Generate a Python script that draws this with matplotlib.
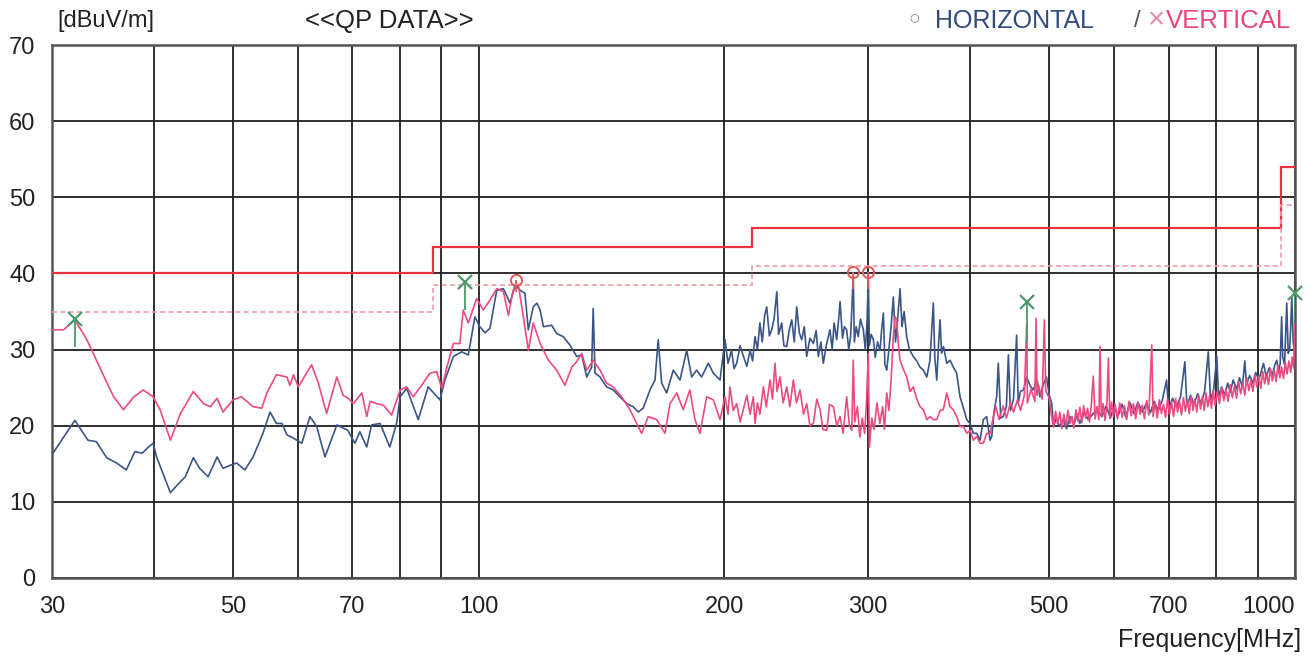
import matplotlib
matplotlib.use("Agg")
import matplotlib.pyplot as plt
from matplotlib.ticker import NullLocator

# ---------------- data ----------------
grid_freqs = [30, 40, 50, 60, 70, 80, 90, 100, 200, 300, 400, 500, 600, 700, 800, 900, 1000]
x_tick_labels = ["30", "", "50", "", "70", "", "", "100", "200", "300", "", "500", "", "700", "", "", "1000"]
y_ticks = [0, 10, 20, 30, 40, 50, 60, 70]

limit_edges = [30, 88, 216, 960, 1000]
limit_levels = [40, 43.5, 46, 54]
margin_levels = [35, 38.5, 41, 49]

# (frequency MHz, level dBuV/m)
horizontal_trace = [
    (30.0, 16.2), (31.0, 18.5), (32.0, 20.7), (33.2, 18.1), (34.0, 17.9), (35.0, 15.8), (36.0, 15.1),
    (37.0, 14.2), (37.9, 16.6), (38.7, 16.4), (39.3, 17.1), (39.9, 17.7), (40.3, 15.9), (41.0, 13.8),
    (41.9, 11.2), (42.7, 12.2), (43.7, 13.3), (44.7, 15.8), (45.5, 14.4), (46.6, 13.3), (47.8, 15.9),
    (48.6, 14.4), (49.6, 14.8), (50.5, 15.1), (51.7, 14.2), (52.9, 15.9), (54.4, 19.0), (55.5, 21.8),
    (56.5, 20.3), (57.4, 20.3), (58.2, 18.8), (59.2, 18.4), (60.7, 17.7), (62.1, 21.2), (63.3, 19.9),
    (64.8, 15.9), (67.0, 20.1), (68.2, 19.7), (69.1, 19.4), (70.5, 17.7), (71.5, 19.2), (72.9, 17.2),
    (73.9, 20.1), (75.7, 20.3), (77.8, 17.2), (79.3, 20.3), (80.1, 23.8), (81.6, 24.9), (84.3, 20.8),
    (86.7, 25.1), (89.6, 23.4), (90.9, 26.0), (93.1, 29.1), (95.3, 29.7), (97.1, 29.3), (98.9, 34.3),
    (100.3, 33.0), (101.8, 32.2), (103.2, 32.8), (105.2, 37.8), (107.2, 38.0), (109.2, 36.1),
    (110.8, 38.5), (112.3, 37.8), (113.9, 37.4), (115.0, 32.6), (116.6, 35.6), (117.8, 36.1),
    (118.9, 35.2), (120.0, 33.0), (122.8, 33.2), (124.6, 32.1), (126.9, 31.7), (129.3, 30.6),
    (131.8, 29.1), (133.7, 29.3), (135.6, 26.4), (137.5, 27.7), (138.1, 35.4), (138.8, 26.9),
    (140.8, 26.4), (143.4, 25.1), (146.1, 24.7), (148.9, 23.8), (151.8, 22.9), (154.6, 22.5),
    (156.8, 21.8), (159.0, 22.3), (162.1, 24.7), (164.4, 26.0), (165.9, 31.3), (167.5, 25.6),
    (169.9, 24.3), (173.1, 27.3), (176.4, 26.0), (179.8, 29.9), (182.3, 26.4), (184.9, 27.3),
    (187.5, 26.4), (191.1, 28.2), (193.8, 26.9), (197.5, 26.0),
    (200.3, 31.3), (202.0, 28.2), (204.0, 29.9), (205.5, 27.5), (207.0, 28.2), (209.0, 30.5),
    (211.0, 29.1), (213.0, 27.8), (215.0, 29.9), (216.5, 28.5), (218.0, 31.7), (219.5, 30.0),
    (221.0, 33.5), (222.5, 31.0), (224.0, 34.5), (225.3, 35.6), (227.0, 31.8), (228.5, 32.6),
    (230.0, 34.0), (231.8, 37.6), (233.0, 32.0), (235.0, 33.5), (236.5, 30.5), (238.4, 30.4),
    (240.0, 32.5), (241.8, 33.9), (243.5, 31.0), (245.2, 35.6), (247.0, 32.2), (248.7, 31.3),
    (250.5, 33.0), (252.2, 29.1), (254.5, 31.5), (257.0, 30.8), (259.0, 32.5), (260.6, 29.1),
    (262.5, 31.0), (264.3, 28.2), (266.5, 30.5), (269.3, 32.6), (271.0, 30.0), (272.5, 33.5),
    (274.5, 31.3), (276.0, 34.0), (277.1, 36.3), (279.0, 31.5), (280.5, 33.0), (282.3, 32.6),
    (284.0, 30.0), (285.5, 31.8), (287.6, 39.6), (288.5, 31.0), (290.0, 33.0), (291.7, 31.7),
    (293.5, 34.0), (295.9, 32.6), (297.5, 30.0), (299.0, 33.5), (300.1, 39.8), (301.0, 30.5),
    (302.5, 32.0), (304.4, 31.3), (306.0, 29.0), (308.0, 31.0), (310.2, 29.9), (311.5, 32.5),
    (313.1, 34.8), (314.5, 28.0), (316.1, 27.3), (318.0, 30.0), (320.0, 33.0), (322.0, 36.9),
    (324.0, 31.0), (326.0, 34.0), (328.2, 38.0), (330.0, 33.0), (332.0, 35.0), (334.4, 31.7),
    (337.0, 30.0), (340.7, 29.1), (344.0, 28.5), (347.2, 27.7), (350.5, 27.3), (353.9, 26.4),
    (357.0, 28.5), (360.5, 36.1), (362.0, 29.0), (364.0, 26.0), (366.0, 31.0), (367.4, 33.9),
    (369.0, 29.5), (371.0, 30.4), (374.4, 28.2), (377.9, 28.6), (381.4, 27.7), (385.0, 26.9),
    (388.7, 23.8), (392.0, 22.5), (396.1, 20.8), (399.8, 20.3), (403.6, 19.0), (407.5, 19.0),
    (411.3, 18.1), (415.1, 20.8), (419.1, 21.2), (423.0, 18.1), (425.1, 18.6), (428.0, 22.0),
    (431.0, 23.8), (433.0, 28.2), (436.0, 21.0), (439.0, 21.2), (443.0, 22.5), (445.5, 29.3),
    (448.0, 22.0), (452.0, 23.5), (456.0, 31.9), (458.0, 23.0), (461.0, 24.5), (465.0, 24.7),
    (469.0, 26.4), (474.0, 25.2), (478.0, 24.7), (483.0, 26.0), (487.0, 23.8), (492.0, 25.5),
    (496.0, 26.4), (500.0, 24.0), (503.5, 22.9), (506.0, 19.9), (510.0, 21.0), (515.0, 19.9),
    (520.0, 20.8), (525.0, 19.6), (530.0, 21.2), (536.0, 20.2), (541.0, 21.5), (545.0, 20.3),
    (552.0, 21.8), (558.0, 20.8), (566.0, 21.6), (572.0, 22.0), (580.0, 21.2), (587.0, 22.6),
    (594.0, 21.0), (600.0, 22.5), (607.0, 21.3), (614.0, 22.8), (620.0, 21.2), (628.0, 23.0),
    (635.0, 21.6), (642.0, 23.1), (650.0, 21.8), (658.0, 23.0), (665.0, 21.7), (672.0, 23.2),
    (680.0, 22.0), (688.0, 23.4), (696.0, 26.0), (700.0, 22.2), (708.0, 23.6), (716.0, 22.4),
    (724.0, 23.8), (733.0, 28.4), (737.0, 22.6), (745.0, 24.0), (752.0, 22.8), (760.0, 24.2),
    (767.0, 22.9), (775.0, 24.5), (783.0, 29.7), (788.0, 23.3), (795.0, 24.8), (802.0, 29.1),
    (806.0, 23.8), (813.0, 25.1), (820.0, 24.0), (827.0, 25.6), (833.0, 24.4), (840.0, 26.0),
    (848.0, 24.8), (855.0, 26.3), (862.0, 25.1), (868.0, 28.5), (872.0, 25.4), (880.0, 26.6),
    (888.0, 25.6), (895.0, 27.0), (903.0, 26.0), (910.0, 27.3), (915.0, 28.2), (922.0, 26.4),
    (930.0, 27.6), (938.0, 26.7), (945.0, 28.0), (950.0, 28.6), (955.0, 27.0), (959.0, 28.2),
    (963.0, 34.3), (966.0, 29.0), (971.0, 28.0), (977.0, 36.1), (981.0, 29.5), (985.0, 30.0),
    (988.0, 33.0), (991.0, 36.9), (995.0, 31.0), (1000.0, 29.1),
]

vertical_trace = [
    (30.0, 32.6), (30.5, 32.6), (31.0, 32.6), (32.0, 33.9), (33.1, 31.3), (34.0, 28.6), (34.9, 26.0),
    (35.7, 23.8), (36.7, 22.1), (37.8, 23.8), (38.8, 24.7), (39.9, 23.8), (40.7, 22.1), (41.9, 18.1),
    (43.1, 21.6), (44.7, 24.5), (46.0, 22.9), (46.9, 22.5), (47.8, 23.6), (48.6, 21.8), (50.0, 23.4),
    (51.2, 23.8), (52.9, 22.5), (54.2, 22.3), (55.0, 24.3), (56.5, 26.7), (58.2, 26.4), (58.7, 25.3),
    (59.3, 26.7), (60.1, 25.1), (62.4, 28.0), (63.6, 25.6), (65.1, 21.6), (67.0, 26.4), (68.2, 24.0),
    (69.2, 23.6), (70.2, 22.9), (71.9, 24.3), (72.9, 21.2), (73.6, 23.2), (75.0, 22.9), (76.4, 22.7),
    (78.2, 21.4), (80.1, 24.7), (81.6, 25.1), (83.1, 23.8), (85.1, 25.3), (87.1, 26.9), (88.8, 27.1),
    (90.1, 24.9), (91.4, 27.7), (93.1, 30.8), (94.8, 30.8), (95.7, 35.2), (97.1, 33.5), (99.4, 36.7),
    (101.3, 35.2), (103.2, 36.5), (105.2, 38.0), (107.2, 37.6), (108.7, 34.5), (110.2, 37.8),
    (111.8, 38.5), (113.4, 34.3), (115.0, 29.9), (116.6, 33.5), (118.9, 30.8), (121.7, 28.6),
    (124.6, 27.3), (127.5, 25.3), (130.0, 27.7), (131.8, 28.4), (133.7, 29.5), (135.6, 27.3),
    (138.1, 28.6), (140.8, 27.3), (143.4, 25.6), (146.1, 25.1), (149.6, 23.8), (153.2, 22.1),
    (156.1, 20.3), (158.3, 19.0), (161.3, 21.2), (165.2, 20.8), (169.1, 19.0), (171.5, 22.9),
    (174.8, 24.3), (178.0, 22.1), (181.4, 24.7), (184.0, 20.8), (186.6, 19.0), (190.2, 23.8),
    (193.8, 23.4), (197.5, 20.8),
    (200.3, 23.8), (202.0, 21.5), (203.1, 25.1), (205.0, 22.0), (207.0, 22.9), (209.0, 20.5),
    (210.9, 22.1), (213.0, 24.0), (215.0, 21.5), (216.9, 23.8), (218.0, 20.3), (219.5, 23.0),
    (221.0, 21.5), (223.2, 25.1), (225.0, 22.5), (227.4, 26.0), (229.0, 23.5), (230.6, 28.2),
    (232.0, 24.5), (233.9, 26.4), (236.0, 23.0), (238.4, 25.1), (240.5, 22.5), (242.9, 26.0),
    (245.0, 23.0), (247.5, 24.7), (250.0, 21.5), (252.2, 22.9), (254.5, 20.0), (257.0, 20.3),
    (259.5, 23.5), (261.9, 22.1), (264.0, 19.5), (266.9, 19.4), (269.0, 22.8), (271.9, 22.5),
    (274.5, 20.0), (277.1, 21.2), (279.5, 19.0), (282.3, 23.8), (284.5, 20.0), (286.4, 19.4),
    (287.6, 28.6), (288.8, 20.5), (291.0, 22.5), (293.0, 18.5), (295.0, 21.0), (297.0, 19.0),
    (298.5, 23.0), (300.1, 29.5), (301.0, 17.2), (303.0, 21.0), (305.0, 19.5), (307.5, 23.0),
    (310.0, 20.3), (312.5, 22.5), (314.0, 19.5), (316.1, 24.3), (318.0, 22.0), (320.0, 26.0),
    (322.0, 31.7), (323.6, 34.3), (325.1, 33.9), (327.0, 30.0), (328.2, 28.6), (331.0, 27.5),
    (334.4, 26.4), (337.5, 24.5), (340.7, 25.1), (344.0, 23.5), (347.2, 22.5), (350.5, 22.1),
    (353.9, 20.8), (357.2, 21.2), (360.5, 20.8), (364.0, 20.8), (367.4, 22.0), (370.8, 22.1),
    (374.4, 24.3), (377.9, 22.5), (381.4, 22.1), (385.1, 21.2), (388.7, 19.9), (392.4, 19.9),
    (396.1, 19.0), (399.8, 19.4), (403.6, 18.1), (407.5, 18.6), (411.3, 17.7), (415.1, 17.7),
    (419.1, 19.0), (423.1, 19.0), (427.0, 21.2),
    (430.0, 22.5), (434.0, 20.8), (439.0, 22.6), (443.0, 21.0), (448.0, 23.0), (452.0, 21.8),
    (457.0, 23.4), (461.0, 22.0), (466.0, 24.0), (469.2, 33.5), (470.0, 23.0), (475.0, 24.8),
    (480.0, 23.2), (481.7, 34.1), (483.0, 24.0), (485.0, 25.3), (490.0, 23.5), (493.1, 33.9),
    (495.0, 24.6), (500.0, 23.6), (503.0, 21.4), (506.0, 19.8), (509.0, 21.9), (512.0, 20.2),
    (515.0, 21.8), (518.0, 19.6), (521.0, 21.5), (524.0, 20.0), (527.0, 22.0), (530.0, 20.3),
    (533.0, 21.2), (536.0, 19.7), (539.0, 22.1), (542.0, 20.6), (545.0, 22.4), (548.0, 20.4),
    (551.0, 22.6), (554.0, 21.0), (557.0, 22.3), (560.0, 20.5), (563.0, 22.8), (566.0, 26.5),
    (569.0, 20.9), (572.0, 22.5), (575.0, 20.8), (577.0, 30.4), (579.0, 21.2), (582.0, 22.9),
    (585.0, 20.7), (588.0, 22.4), (590.7, 28.9), (593.0, 21.0), (596.0, 23.1), (599.0, 21.2),
    (602.0, 22.8), (606.0, 20.9), (610.0, 23.0), (614.0, 21.1), (618.0, 22.6), (622.0, 20.8),
    (626.0, 23.2), (630.0, 21.3), (634.0, 22.9), (638.0, 20.9), (642.0, 23.1), (646.0, 21.5),
    (650.0, 22.7), (654.0, 20.9), (658.0, 23.3), (662.0, 21.4), (667.6, 30.6), (670.0, 21.2),
    (674.0, 23.0), (678.0, 21.0), (682.0, 23.4), (686.0, 21.6), (690.0, 22.8), (694.0, 21.1),
    (698.0, 23.5), (702.0, 21.5), (706.0, 23.1), (710.0, 21.2), (714.0, 23.6), (718.0, 21.8),
    (722.0, 23.2), (726.0, 21.4), (730.0, 23.7), (734.0, 21.9), (738.0, 23.4), (742.0, 21.6),
    (746.0, 23.9), (750.0, 22.0), (754.0, 23.5), (758.0, 21.8), (762.0, 24.0), (766.0, 22.2),
    (770.0, 23.8), (774.0, 22.0), (778.0, 24.3), (782.0, 22.5), (786.0, 24.0), (790.0, 22.3),
    (794.0, 24.6), (798.0, 22.7), (803.0, 24.5), (808.0, 22.9), (813.0, 25.0), (818.0, 23.3),
    (823.0, 24.8), (828.0, 23.2), (833.0, 25.4), (838.0, 23.7), (843.0, 25.2), (848.0, 23.6),
    (853.0, 25.8), (858.0, 24.2), (863.0, 25.6), (868.0, 24.0), (873.0, 26.3), (878.0, 24.6),
    (883.0, 26.0), (888.0, 24.5), (893.0, 26.7), (898.0, 25.1), (903.0, 26.5), (908.0, 24.9),
    (913.0, 27.1), (918.0, 25.5), (923.0, 26.9), (928.0, 25.4), (933.0, 27.5), (938.0, 25.9),
    (943.0, 27.3), (948.0, 25.8), (953.0, 27.9), (958.0, 26.3), (963.0, 27.7), (968.0, 26.2),
    (973.0, 28.3), (978.0, 26.8), (983.0, 28.5), (988.0, 27.0), (992.0, 29.0), (996.0, 27.6),
    (1000.0, 33.5),
]

# peak markers: frequency, level, bottom of the marker stick, polarisation
peak_freq = [32.0, 96.2, 111.2, 287.6, 300.1, 469.2, 1000.0]
peak_level = [34.0, 38.9, 39.1, 40.2, 40.2, 36.3, 37.4]
peak_stick_bottom = [30.3, 35.2, 37.5, 38.0, 38.0, 31.0, 33.5]
peak_pol = ["V", "V", "H", "H", "H", "V", "V"]

# ---------------- drawing ----------------
plt.rcParams["font.family"] = ["Liberation Sans", "DejaVu Sans"]

W, H = 1310, 662
fig = plt.figure(figsize=(W / 100, H / 100), dpi=100)
ax = fig.add_axes([52 / W, 1 - 578 / H, (1295 - 52) / W, (578 - 45) / H])

ax.set_xscale("log")
ax.set_xlim(30, 1000)
ax.set_ylim(0, 70)
ax.set_xticks(grid_freqs)
ax.set_xticklabels(x_tick_labels)
ax.xaxis.set_minor_locator(NullLocator())
ax.set_yticks(y_ticks)
ax.set_yticklabels([str(v) for v in y_ticks])
ax.tick_params(axis="both", length=0, labelsize=17, colors="#222222")
ax.tick_params(axis="x", pad=13)
ax.tick_params(axis="y", pad=12)
ax.get_xticklabels()[-1].set_horizontalalignment("right")
ax.set_axisbelow(True)
ax.grid(True, color="#1e1e1e", linewidth=1.3)
for side in ["left", "bottom", "top", "right"]:
    ax.spines[side].set_color("#555555")
    ax.spines[side].set_linewidth(1.8)

blue = "#3a5587"
pink = "#ec4a82"

hf = [p[0] for p in horizontal_trace]
hl = [p[1] for p in horizontal_trace]
vf = [p[0] for p in vertical_trace]
vl = [p[1] for p in vertical_trace]
ax.plot(hf, hl, color=blue, linewidth=1.2, zorder=3)
ax.plot(vf, vl, color=pink, linewidth=1.2, zorder=4)

ax.stairs(limit_levels, limit_edges, baseline=None, color="#e8323f", linewidth=1.6, zorder=5)
ax.stairs(margin_levels, limit_edges, baseline=None, color="#f09aa8", linewidth=1.2,
          linestyle=(0, (3, 2)), zorder=5)

green = "#4b9a68"
red_c = "#e05a5a"
for f, lv, b, pol in zip(peak_freq, peak_level, peak_stick_bottom, peak_pol):
    c = green if pol == "V" else red_c
    ax.vlines(f, b, lv, colors=c, linewidth=1.3, zorder=6)
    if pol == "V":
        ax.plot([f], [lv], marker="x", color=c, markersize=10, markeredgewidth=1.6, zorder=7,
                clip_on=False)
    else:
        ax.plot([f], [lv], marker="o", markerfacecolor="none", markeredgecolor=c, markersize=8,
                markeredgewidth=1.4, zorder=7, clip_on=False)

# ---------------- texts ----------------
def px(x, y):
    return x / W, 1 - y / H

fig.text(*px(57, 21), "[dBuV/m]", fontsize=17, color="#222222", ha="left", va="center")
fig.text(*px(305, 21), "<<QP DATA>>", fontsize=18.5, color="#222222", ha="left", va="center")
fig.text(*px(914, 20), "○", fontsize=14, color="#888888", ha="center", va="center")
fig.text(*px(935, 21), "HORIZONTAL", fontsize=18, color="#2e4a7e", ha="left", va="center")
fig.text(*px(1137, 21), "/", fontsize=17, color="#555555", ha="center", va="center")
fig.text(*px(1156, 20), "×", fontsize=21, color="#f08aaa", ha="center", va="center")
fig.text(*px(1166, 21), "VERTICAL", fontsize=18.5, color="#e8447e", ha="left", va="center")
fig.text(*px(1301, 640), "Frequency[MHz]", fontsize=18, color="#222222", ha="right", va="center")

fig.savefig("out.png", dpi=100, facecolor="white")
